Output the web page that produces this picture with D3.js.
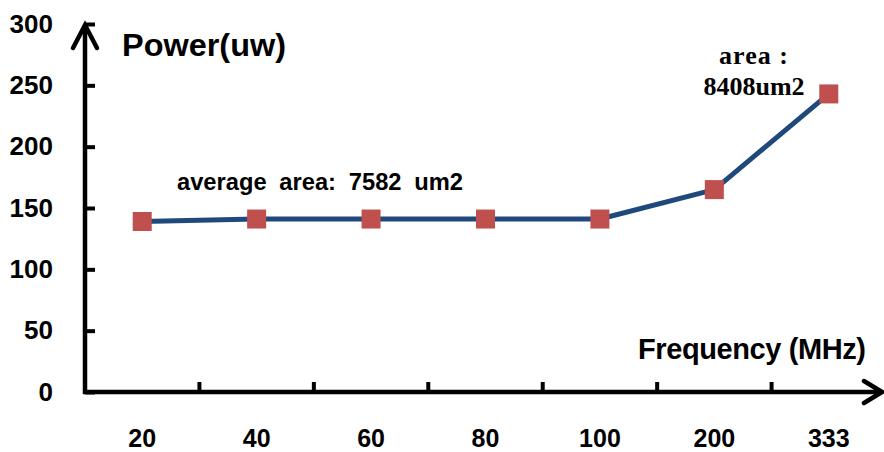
<!DOCTYPE html>
<html>
<head>
<meta charset="utf-8">
<script src="https://cdn.jsdelivr.net/npm/d3@7"></script>
<style>
  html, body { margin: 0; padding: 0; background: #fff; }
  svg { display: block; }
  text { font-family: "Liberation Sans", Arial, sans-serif; font-weight: bold; fill: #000; }
</style>
</head>
<body>
<svg id="chart" width="884" height="452"></svg>
<script>
// ---- data ----
const categories = ["20", "40", "60", "80", "100", "200", "333"];
const powerValues = [139, 141, 141, 141, 141, 165, 243];
const yTickValues = [0, 50, 100, 150, 200, 250, 300];
const yTitle = "Power(uw)";
const xTitle = "Frequency (MHz)";
const noteAverage = "average area: 7582 um2";
const noteLast = ["area :", "8408um2"];

// ---- layout ----
const svg = d3.select("#chart");
const axisX0 = 85, axisY0 = 392;
const x = d3.scaleBand().domain(categories).range([85, 886]).padding(0);
const y = d3.scaleLinear().domain([0, 300]).range([392, 24]);

// Y axis (ticks inside, labels left)
const yAxis = svg.append("g")
  .attr("transform", `translate(${axisX0},0)`)
  .call(d3.axisLeft(y).tickValues(yTickValues).tickSize(-10).tickPadding(32));
yAxis.select(".domain").remove();
yAxis.selectAll(".tick line").attr("stroke", "#000").attr("stroke-width", 4);
yAxis.selectAll(".tick text")
  .style("font-size", "26px").style("font-family", '"Liberation Sans", Arial, sans-serif')
  .style("font-weight", "bold").attr("fill", "#000");

// X axis labels
const xAxis = svg.append("g")
  .attr("transform", `translate(0,${axisY0})`)
  .call(d3.axisBottom(x).tickSize(0));
xAxis.select(".domain").remove();
xAxis.selectAll(".tick text")
  .attr("y", 55).attr("dy", 0)
  .style("font-size", "25px").style("font-family", '"Liberation Sans", Arial, sans-serif')
  .style("font-weight", "bold").attr("fill", "#000");

// X boundary ticks (pointing up)
svg.append("g").selectAll("line")
  .data(categories.slice(0, -1))
  .join("line")
  .attr("x1", d => x(d) + x.bandwidth())
  .attr("x2", d => x(d) + x.bandwidth())
  .attr("y1", axisY0 - 10).attr("y2", axisY0)
  .attr("stroke", "#000").attr("stroke-width", 4);

// Axis lines with arrows
svg.append("line").attr("x1", axisX0).attr("x2", axisX0)
  .attr("y1", axisY0 + 2).attr("y2", 25)
  .attr("stroke", "#000").attr("stroke-width", 4.5);
svg.append("path").attr("d", "M73,48 L85,25 L97,48")
  .attr("fill", "none").attr("stroke", "#000").attr("stroke-width", 4.5)
  .attr("stroke-linecap", "round").attr("stroke-linejoin", "miter");
svg.append("line").attr("x1", axisX0 - 2).attr("x2", 881)
  .attr("y1", axisY0).attr("y2", axisY0)
  .attr("stroke", "#000").attr("stroke-width", 4.5);
svg.append("path").attr("d", "M864,381 L882,392 L864,403")
  .attr("fill", "none").attr("stroke", "#000").attr("stroke-width", 4.5)
  .attr("stroke-linecap", "round").attr("stroke-linejoin", "miter");

// Data line
const cx = d => x(d) + x.bandwidth() / 2;
const pts = categories.map((c, i) => [cx(c), y(powerValues[i])]);
svg.append("path")
  .attr("d", d3.line()(pts))
  .attr("fill", "none").attr("stroke", "#1F497D").attr("stroke-width", 5)
  .attr("stroke-linejoin", "round");

// Markers
svg.append("g").selectAll("rect")
  .data(pts)
  .join("rect")
  .attr("x", d => d[0] - 9.5).attr("y", d => d[1] - 9.5)
  .attr("width", 19).attr("height", 19)
  .attr("fill", "#C0504D");

// Titles
svg.append("text").attr("x", 122).attr("y", 56)
  .style("font-size", "31px")
  .attr("textLength", 164).attr("lengthAdjust", "spacingAndGlyphs")
  .text(yTitle);
svg.append("text").attr("x", 638).attr("y", 359)
  .style("font-size", "29px")
  .attr("textLength", 228).attr("lengthAdjust", "spacing")
  .text(xTitle);

// Annotations
svg.append("text").attr("x", 177).attr("y", 190)
  .style("font-size", "23px")
  .attr("word-spacing", 6)
  .attr("textLength", 286).attr("lengthAdjust", "spacingAndGlyphs")
  .text(noteAverage);
svg.append("g").selectAll("text")
  .data(noteLast)
  .join("text")
  .attr("x", 754).attr("y", (d, i) => 64 + i * 31)
  .attr("text-anchor", "middle")
  .style("font-family", '"Liberation Serif", "Times New Roman", serif')
  .style("font-size", "26px")
  .attr("letter-spacing", (d, i) => i === 0 ? 1 : 0)
  .text(d => d);
</script>
</body>
</html>
